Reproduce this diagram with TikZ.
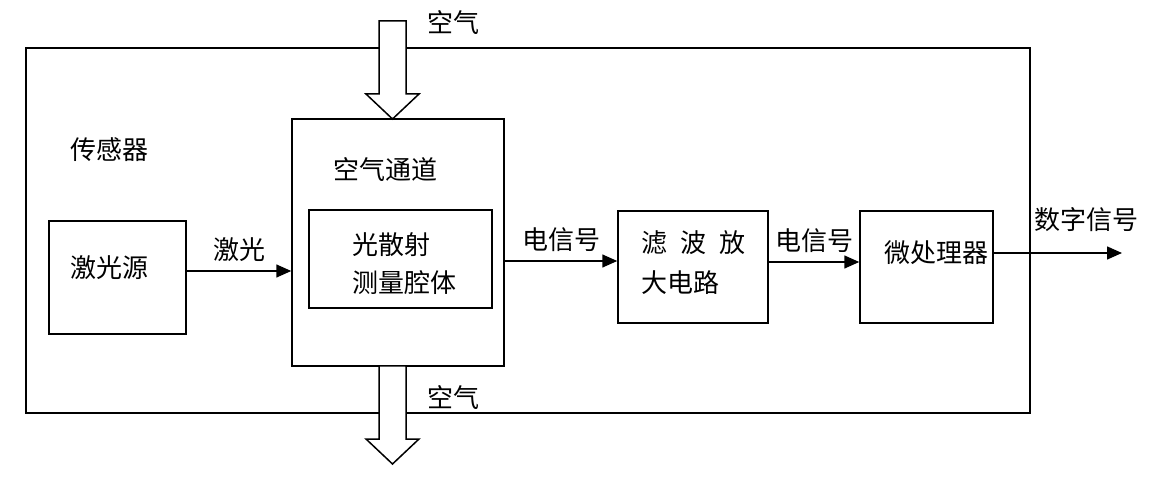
\documentclass[tikz,border=0pt]{standalone}
\usepackage{fontspec}
\setmainfont{Noto Sans CJK SC}
\usetikzlibrary{arrows.meta,calc}
\begin{document}
\begin{tikzpicture}[x=1pt,y=-1pt, line width=1.5pt,
  box/.style={draw, rectangle, inner sep=0pt},
  lbl/.style={font=\fontsize{26}{30}\selectfont, inner sep=0pt},
  arr/.style={-{Triangle[length=15pt,width=13pt]}},
  blockarrow/.style={draw, fill=white, line join=miter}]
\useasboundingbox (0,0) rectangle (1152,486);
% boxes
\node[box, minimum width=1004pt, minimum height=365pt] (outer) at (528,230.5) {};
\node[box, minimum width=212pt, minimum height=247pt] (chan) at (398,242.5) {};
\node[box, minimum width=183pt, minimum height=98pt] (inner) at (400.5,259) {};
\node[box, minimum width=137pt, minimum height=113pt] (laser) at (117.5,277.5) {};
\node[box, minimum width=150pt, minimum height=112pt] (filter) at (693,267) {};
\node[box, minimum width=133pt, minimum height=112pt] (micro) at (926.5,267) {};
% block arrows (air in / out)
\draw[blockarrow] (379,21) -- (406,21) -- (406,94) -- (419,94) -- (392.5,119) -- (366,94) -- (379,94) -- cycle;
\draw[blockarrow] (379,366) -- (379,439) -- (366,439) -- (392.5,464) -- (419,439) -- (406,439) -- (406,366) -- cycle;
% texts
\node[lbl] (airin) at (453,23) {空气};
\node[lbl] (airout) at (453,398) {空气};
\node[lbl] (sensor) at (109,150) {传感器};
\node[lbl] (lasert) at (109,268) {激光源};
\node[lbl] (chant) at (385,170) {空气通道};
\node[lbl, anchor=west] (innert1) at (352,245) {光散射};
\node[lbl, anchor=west] (innert2) at (352,283) {测量腔体};
\node[lbl, anchor=west] (filtt1) at (641,243) {滤\hspace{0.5em}波\hspace{0.5em}放};
\node[lbl, anchor=west] (filtt2) at (641,283) {大电路};
\node[lbl] (microt) at (936,253) {微处理器};
% connectors
\coordinate (y1) at (0,271);
\coordinate (y2) at (0,261);
\coordinate (y3) at (0,262);
\coordinate (y4) at (0,253);
\coordinate (outend) at (1122,253);
\draw[arr] (laser.east |- y1) -- node[lbl, above=9pt] (l1) {激光} (chan.west |- y1);
\draw[arr] (chan.east |- y2) -- node[lbl, above=9pt] (l2) {电信号} (filter.west |- y2);
\draw[arr] (filter.east |- y3) -- node[lbl, above=9pt] (l3) {电信号} (micro.west |- y3);
\draw[arr] (micro.east |- y4) -- (outend);
\node[lbl] (l4) at (1086.5,220) {数字信号};
\end{tikzpicture}
\end{document}
